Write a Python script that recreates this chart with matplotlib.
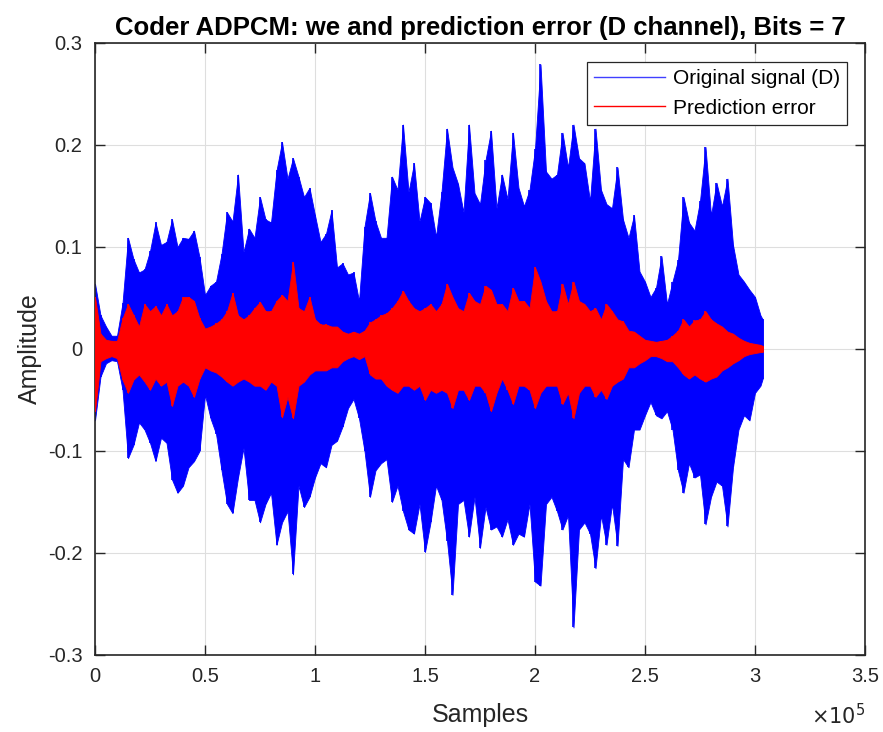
import matplotlib
matplotlib.use("Agg")
import matplotlib.pyplot as plt
from matplotlib.ticker import FuncFormatter, MultipleLocator

plt.rcParams['font.family'] = ['Liberation Sans', 'DejaVu Sans']

# Sample positions (every 2500 samples) and local peak envelopes
env_x = list(range(0, 302501, 2500)) + [303500]

orig_up = [0.064, 0.033, 0.022, 0.013, 0.013, 0.045, 0.109, 0.088, 0.075, 0.078,
           0.096, 0.124, 0.102, 0.105, 0.127, 0.1, 0.109, 0.108, 0.116, 0.09,
           0.053, 0.062, 0.066, 0.093, 0.134,
           0.125, 0.171, 0.095, 0.118, 0.109, 0.149, 0.127, 0.124, 0.175, 0.203,
           0.167, 0.187, 0.169, 0.149, 0.158, 0.131, 0.105, 0.113, 0.136, 0.08,
           0.084, 0.073, 0.075, 0.047, 0.12,
           0.153, 0.125, 0.109, 0.109, 0.169, 0.156, 0.22, 0.154, 0.182, 0.125,
           0.149, 0.143, 0.11, 0.154, 0.216, 0.178, 0.162, 0.134, 0.22, 0.153,
           0.142, 0.185, 0.214, 0.138,
           0.171, 0.147, 0.212, 0.158, 0.14, 0.156, 0.196, 0.279, 0.174, 0.167,
           0.171, 0.212, 0.178, 0.22, 0.187, 0.182, 0.145, 0.216, 0.156, 0.142,
           0.138, 0.178, 0.127, 0.109, 0.131,
           0.076, 0.066, 0.051, 0.06, 0.091, 0.044, 0.066, 0.087, 0.149, 0.124,
           0.116, 0.145, 0.198, 0.131, 0.163, 0.14, 0.167, 0.102, 0.073, 0.066,
           0.058, 0.051, 0.033, 0.029]
orig_lo = [-0.07, -0.027, -0.014, -0.011, -0.012, -0.04, -0.107, -0.094, -0.072, -0.079,
           -0.092, -0.11, -0.087, -0.092, -0.128, -0.141, -0.134, -0.116, -0.11, -0.1,
           -0.045, -0.068, -0.083, -0.119, -0.152,
           -0.161, -0.126, -0.097, -0.148, -0.148, -0.17, -0.152, -0.141, -0.192, -0.17,
           -0.159, -0.221, -0.134, -0.155, -0.145, -0.126, -0.112, -0.116, -0.094, -0.09,
           -0.076, -0.058, -0.049, -0.068, -0.1,
           -0.145, -0.119, -0.112, -0.108, -0.15, -0.134, -0.159, -0.177, -0.181, -0.152,
           -0.199, -0.17, -0.134, -0.148, -0.188, -0.241, -0.152, -0.148, -0.184, -0.145,
           -0.195, -0.155, -0.177, -0.174,
           -0.184, -0.167, -0.192, -0.181, -0.184, -0.152, -0.228, -0.232, -0.152, -0.145,
           -0.159, -0.177, -0.163, -0.273, -0.177, -0.17, -0.181, -0.215, -0.163, -0.192,
           -0.152, -0.193, -0.108, -0.116, -0.079,
           -0.079, -0.065, -0.052, -0.065, -0.068, -0.061, -0.079, -0.119, -0.141, -0.112,
           -0.126, -0.123, -0.172, -0.145, -0.13, -0.134, -0.174, -0.116, -0.079, -0.065,
           -0.07, -0.043, -0.036, -0.029]
err_up = [0.051, 0.015, 0.009, 0.008, 0.008, 0.03, 0.044, 0.033, 0.022, 0.044,
          0.037, 0.042, 0.033, 0.044, 0.033, 0.037, 0.051, 0.051, 0.047, 0.03,
          0.02, 0.022, 0.025, 0.029, 0.037,
          0.055, 0.033, 0.029, 0.033, 0.04, 0.046, 0.037, 0.037, 0.047, 0.053,
          0.047, 0.085, 0.04, 0.037, 0.051, 0.029, 0.024, 0.024, 0.022, 0.022,
          0.017, 0.015, 0.017, 0.015, 0.018,
          0.026, 0.029, 0.033, 0.035, 0.04, 0.047, 0.057, 0.047, 0.04, 0.037,
          0.04, 0.044, 0.037, 0.044, 0.064, 0.051, 0.04, 0.037, 0.055, 0.047,
          0.044, 0.062, 0.058, 0.044,
          0.044, 0.037, 0.06, 0.047, 0.047, 0.04, 0.08, 0.066, 0.047, 0.037,
          0.037, 0.064, 0.044, 0.066, 0.047, 0.044, 0.037, 0.04, 0.029, 0.044,
          0.037, 0.029, 0.027, 0.018, 0.017,
          0.013, 0.009, 0.008, 0.007, 0.008, 0.009, 0.013, 0.018, 0.029, 0.022,
          0.028, 0.029, 0.037, 0.029, 0.025, 0.022, 0.017, 0.015, 0.011, 0.008,
          0.006, 0.005, 0.004, 0.003]
err_lo = [-0.061, -0.012, -0.009, -0.007, -0.009, -0.03, -0.043, -0.03, -0.025, -0.032,
          -0.04, -0.029, -0.036, -0.032, -0.056, -0.036, -0.032, -0.036, -0.047, -0.029,
          -0.018, -0.021, -0.023, -0.027, -0.032,
          -0.036, -0.032, -0.029, -0.032, -0.036, -0.036, -0.04, -0.032, -0.036, -0.067,
          -0.047, -0.068, -0.036, -0.032, -0.025, -0.021, -0.021, -0.021, -0.018, -0.018,
          -0.012, -0.009, -0.007, -0.01, -0.007,
          -0.025, -0.029, -0.029, -0.036, -0.04, -0.043, -0.036, -0.036, -0.04, -0.036,
          -0.05, -0.04, -0.043, -0.04, -0.043, -0.058, -0.04, -0.04, -0.05, -0.036,
          -0.036, -0.043, -0.061, -0.043,
          -0.029, -0.04, -0.054, -0.036, -0.036, -0.04, -0.058, -0.043, -0.036, -0.036,
          -0.036, -0.054, -0.043, -0.068, -0.043, -0.036, -0.036, -0.047, -0.04, -0.049,
          -0.036, -0.032, -0.029, -0.018, -0.018,
          -0.014, -0.011, -0.007, -0.007, -0.009, -0.012, -0.012, -0.018, -0.025, -0.029,
          -0.025, -0.029, -0.032, -0.029, -0.027, -0.021, -0.018, -0.014, -0.011, -0.007,
          -0.005, -0.004, -0.003, -0.003]

labels = ["Original signal (D)", "Prediction error"]
title = "Coder ADPCM: we and prediction error (D channel), Bits = 7"

fig = plt.figure(figsize=(8.83, 7.32), dpi=100)
ax = fig.add_axes([0.1076, 0.1052, 0.872, 0.8361])

blue = (0, 0, 1)
red = (1, 0, 0)
ax.fill_between(env_x, orig_lo, orig_up, color=blue, linewidth=0.6, edgecolor=blue, zorder=2)
ax.vlines(env_x, orig_lo, orig_up, color=blue, linewidth=1.2, zorder=2)
ax.fill_between(env_x, err_lo, err_up, color=red, linewidth=0.6, edgecolor=red, zorder=3)
ax.vlines(env_x, err_lo, err_up, color=red, linewidth=1.2, zorder=3)

ax.plot([], [], color=(0.25, 0.25, 1.0), linewidth=1.0, label=labels[0])
ax.plot([], [], color=red, linewidth=1.0, label=labels[1])

ax.set_xlim(0, 350000)
ax.set_ylim(-0.3, 0.3)
ax.xaxis.set_major_locator(MultipleLocator(50000))
ax.yaxis.set_major_locator(MultipleLocator(0.1))
ax.xaxis.set_major_formatter(FuncFormatter(lambda v, p: f"{v/1e5:g}"))
ax.yaxis.set_major_formatter(FuncFormatter(lambda v, p: "0" if abs(v) < 1e-9 else f"{v:.1f}"))

tc = (0.15, 0.15, 0.15)
ax.grid(True, color=(0.87, 0.87, 0.87), linewidth=0.8, zorder=0)
ax.set_axisbelow(True)
ax.tick_params(direction='in', top=True, right=True, length=7, width=1.0,
               colors=tc, labelsize=14.5, pad=9)
for s in ax.spines.values():
    s.set_color(tc)
    s.set_linewidth(1.2)

ax.set_xlabel("Samples", fontsize=18, color=tc, labelpad=12)
ax.set_ylabel("Amplitude", fontsize=18, color=tc, labelpad=4)
ax.set_title(title, fontsize=18.5, fontweight='bold', color='black', pad=6)
ax.text(1.0, -0.078, r"$\times 10^{5}$", transform=ax.transAxes, ha='right', va='top',
        fontsize=15, color=tc)

leg = ax.legend(loc='upper right', fontsize=15, frameon=True, fancybox=False,
                edgecolor=tc, framealpha=1, borderpad=0.35, handlelength=3.4,
                handletextpad=0.35, labelspacing=0.5, borderaxespad=0,
                bbox_to_anchor=(0.9766, 0.969))
leg.get_frame().set_linewidth(0.9)

fig.savefig("out.png", dpi=100)
